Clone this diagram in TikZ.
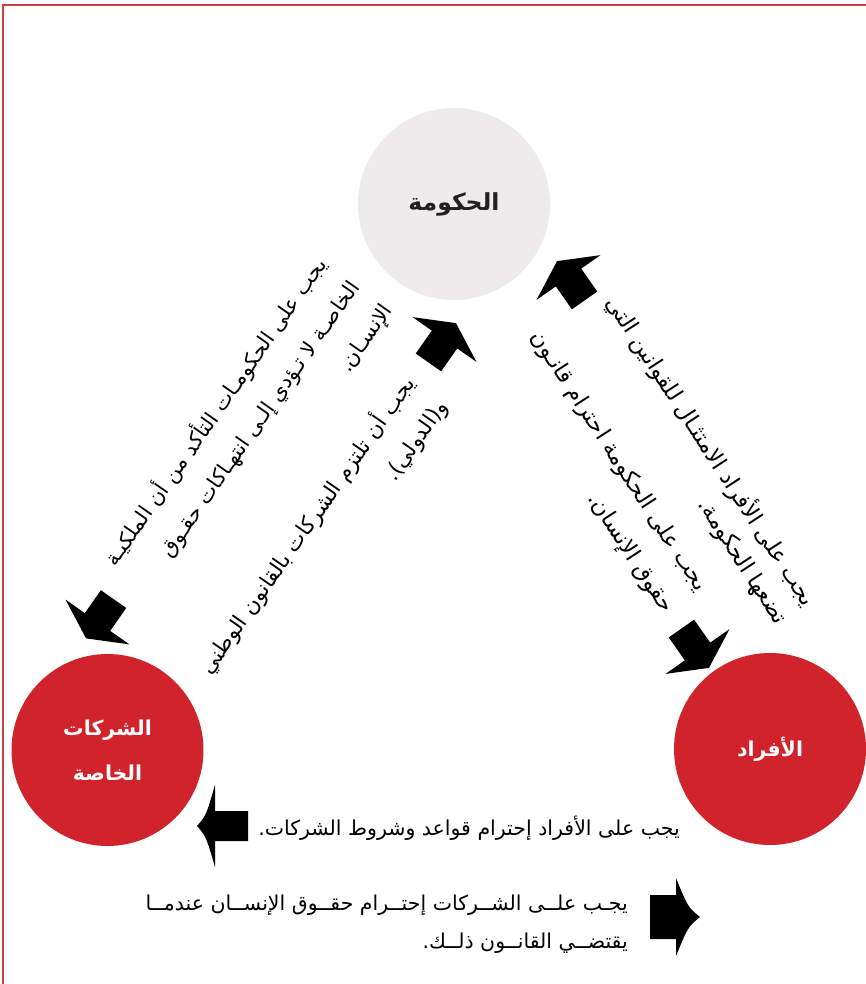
\documentclass[tikz,border=0pt]{standalone}
\usepackage{fontspec}
\newfontfamily\arabicfont[Script=Arabic]{DejaVu Sans}
\TeXXeTstate=1
\usepackage{tikz}

\definecolor{govgrey}{RGB}{237,235,236}
\definecolor{govtext}{RGB}{35,31,32}
\definecolor{actorred}{RGB}{208,35,43}
\definecolor{framered}{RGB}{204,62,72}

\tikzset{
  actor/.style={circle, minimum size=192pt, inner sep=0pt, align=center,
    font=\arabicfont\bfseries\fontsize{#1}{45}\selectfont},
  duty/.style 2 args={inner sep=0pt, align=right,
    font=\arabicfont\fontsize{#1}{#2}\selectfont},
  plain/.style={inner sep=0pt, align=right,
    font=\arabicfont\fontsize{20.5}{38}\selectfont},
  pics/blockarr/.style n args={5}{code={
    \fill (-#1,-#2) -- (0,-#2) -- (0,-#3)
      .. controls (#4*0.5,-#3*#5) .. (#4,0)
      .. controls (#4*0.5,#3*#5) .. (0,#3)
      -- (0,#2) -- (-#1,#2) -- cycle;}}
}

\begin{document}
\begin{tikzpicture}[x=1pt, y=-1pt]
  \useasboundingbox (0,0) rectangle (866,984);
  \draw[framered, line width=2pt] (3,990) -- (3,5) -- (870,5);

  \node[actor=23.5, fill=govgrey, text=govtext] (gov) at (454,204) {\beginR الحكومة\endR};
  \node[actor=20.5, fill=actorred, text=white] (corp) at (107.5,750)
    {\beginR الشركات\endR\\\beginR الخاصة\endR};
  \node[actor=20.5, fill=actorred, text=white] (indiv) at (770,749) {\beginR الأفراد\endR};

  \node[duty={21}{40}, rotate=55, anchor=north east] (govcorp) at (310,252)
    {\beginR يجب على الحكومـات التأكد من أن الملكيـة\endR\\
     \beginR الخاصـة لا تـؤدي إلـى انتهـاكات حقـوق\endR\\
     \beginR الإنسـان.\endR};
  \node[duty={21.5}{40}, rotate=55, anchor=north east] (corpgov) at (398,371)
    {\beginR يجب أن تلتزم الشركات بالقانون الوطني\endR\\
     \beginR و(الدولي).\endR};
  \node[duty={22.5}{33}, rotate=-57, anchor=north east] (indivgov) at (822,596)
    {\beginR يجب على الأفراد الامتثـال للقوانين التي\endR\\
     \beginR تضعها الحكومة.\endR};
  \node[duty={22.5}{40}, rotate=-57, anchor=north east] (govindiv) at (711,583)
    {\beginR يجب على الحكومة احترام قانـون\endR\\
     \beginR حقوق الإنسان.\endR};

  \node[plain, anchor=east] (indivcorp) at (680,828)
    {\beginR يجب على الأفراد إحترام قواعد وشروط الشركات.\endR};
  \node[plain, anchor=east] (corpindiv) at (628,924)
    {\beginR يجـب علــى الشــركات إحتــرام حقــوق الإنســان عندمــا\endR\\
     \beginR يقتضــي القانــون ذلــك.\endR};

  \pic[rotate=55] at (444.5,339.5) {blockarr={28}{15.5}{39}{20}{0.5}};
  \pic[rotate=125] at (568.5,277.5) {blockarr={28}{15.5}{39}{20}{0.5}};
  \pic[rotate=-125] at (97.5,622) {blockarr={28}{15.5}{39}{20}{0.5}};
  \pic[rotate=-55] at (697.5,651.5) {blockarr={28}{15.5}{39}{20}{0.5}};
  \pic[rotate=180] at (215,826) {blockarr={33}{15}{41}{18}{0.25}};
  \pic at (676,917) {blockarr={26}{22}{39}{24}{0.25}};
\end{tikzpicture}
\end{document}
